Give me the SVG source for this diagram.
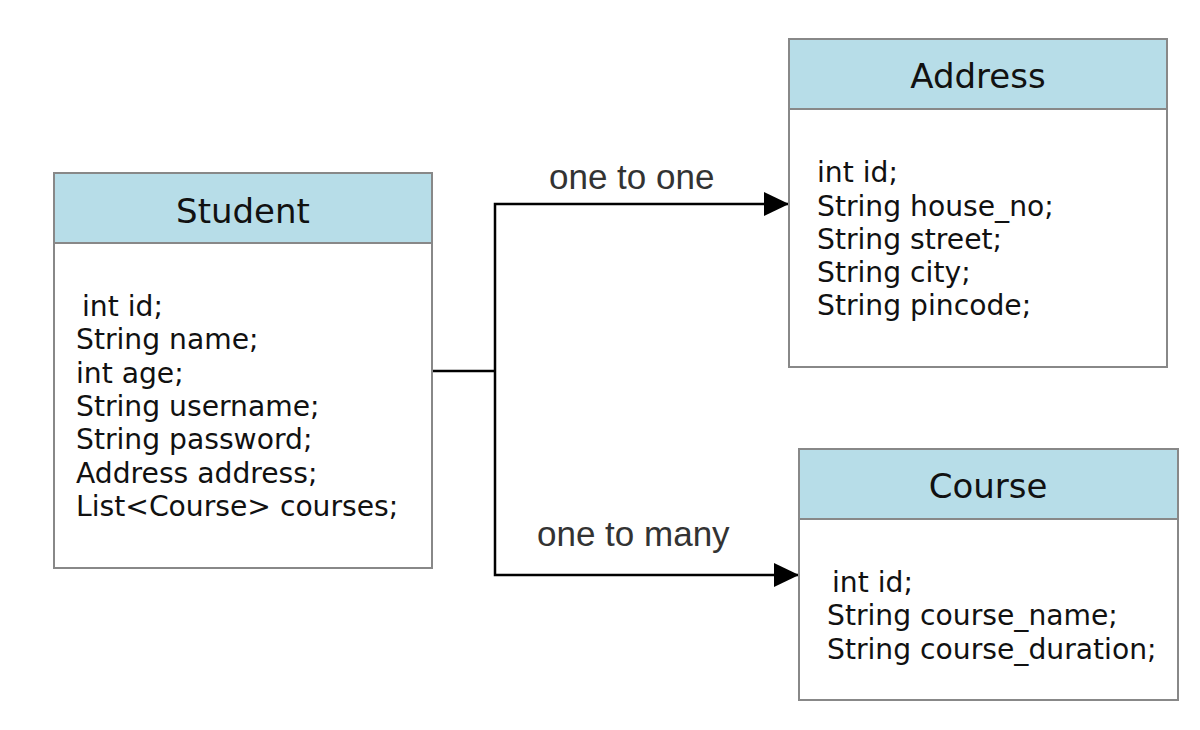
<svg xmlns="http://www.w3.org/2000/svg" width="1200" height="730" viewBox="0 0 1200 730">
<style>
.box{fill:#ffffff;stroke:#888888;stroke-width:2}
.hdr{fill:#b7dde8;stroke:#888888;stroke-width:2}
.title{font-family:"DejaVu Sans",Verdana,sans-serif;font-size:34px;fill:#111111;text-anchor:middle}
.attr{font-family:"DejaVu Sans",Verdana,sans-serif;font-size:28.2px;fill:#111111}
.lbl{font-family:"Liberation Sans",Arial,sans-serif;font-size:35px;fill:#333333}
.conn{fill:none;stroke:#000000;stroke-width:2.5}
</style>
<defs>
<marker id="arrow" viewBox="0 0 25 24" refX="25" refY="12" markerWidth="25" markerHeight="24" markerUnits="userSpaceOnUse" orient="auto">
<path d="M0,0 L25,12 L0,24 Z" fill="#000000"/>
</marker>
</defs>
<rect width="1200" height="730" fill="#ffffff"/>
<g id="connectors">
<polyline class="conn" points="432,371 495,371"/>
<polyline class="conn" points="495,371 495,204 789,204" marker-end="url(#arrow)"/>
<polyline class="conn" points="495,371 495,575 799,575" marker-end="url(#arrow)"/>
<text class="lbl" x="549" y="189">one to one</text>
<text class="lbl" x="537" y="546">one to many</text>
</g>
<g id="student">
<rect class="box" x="54" y="173" width="378" height="395"/>
<rect class="hdr" x="54" y="173" width="378" height="70"/>
<text class="title" x="243" y="223">Student</text>
<text class="attr" x="82" y="316">int id;</text>
<text class="attr" x="76" y="349">String name;</text>
<text class="attr" x="76" y="383">int age;</text>
<text class="attr" x="76" y="416">String username;</text>
<text class="attr" x="76" y="449">String password;</text>
<text class="attr" x="76" y="483">Address address;</text>
<text class="attr" x="76" y="516">List&lt;Course&gt; courses;</text>
</g>
<g id="address">
<rect class="box" x="789" y="39" width="378" height="328"/>
<rect class="hdr" x="789" y="39" width="378" height="70"/>
<text class="title" x="978" y="88">Address</text>
<text class="attr" x="817" y="182">int id;</text>
<text class="attr" x="817" y="216">String house_no;</text>
<text class="attr" x="817" y="249">String street;</text>
<text class="attr" x="817" y="282">String city;</text>
<text class="attr" x="817" y="315">String pincode;</text>
</g>
<g id="course">
<rect class="box" x="799" y="449" width="379" height="251"/>
<rect class="hdr" x="799" y="449" width="379" height="70"/>
<text class="title" x="988" y="498">Course</text>
<text class="attr" x="832" y="592">int id;</text>
<text class="attr" x="827" y="625">String course_name;</text>
<text class="attr" x="827" y="659">String course_duration;</text>
</g>
</svg>
